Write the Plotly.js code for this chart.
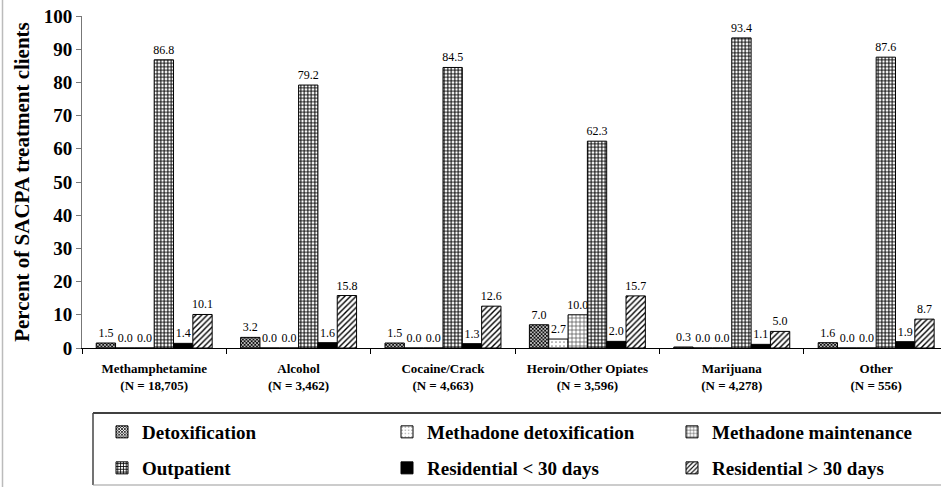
<!DOCTYPE html>
<html>
<head>
<meta charset="utf-8">
<script src="https://cdn.plot.ly/plotly-3.0.1.min.js"></script>
<style>html,body{margin:0;padding:0;background:#fff;}#chart{width:941px;height:487px;}</style>
</head>
<body>
<div id="chart"></div>
<script>
const categories = [
  "Methamphetamine<br>(N = 18,705)",
  "Alcohol<br>(N = 3,462)",
  "Cocaine/Crack<br>(N = 4,663)",
  "Heroin/Other Opiates<br>(N = 3,596)",
  "Marijuana<br>(N = 4,278)",
  "Other<br>(N = 556)"
];
const seriesNames = [
  "Detoxification",
  "Methadone detoxification",
  "Methadone maintenance",
  "Outpatient",
  "Residential &lt; 30 days",
  "Residential &gt; 30 days"
];
const detoxification        = [1.5, 3.2, 1.5, 7.0, 0.3, 1.6];
const methadoneDetox        = [0.0, 0.0, 0.0, 2.7, 0.0, 0.0];
const methadoneMaintenance  = [0.0, 0.0, 0.0, 10.0, 0.0, 0.0];
const outpatient            = [86.8, 79.2, 84.5, 62.3, 93.4, 87.6];
const residentialUnder30    = [1.4, 1.6, 1.3, 2.0, 1.1, 1.9];
const residentialOver30     = [10.1, 15.8, 12.6, 15.7, 5.0, 8.7];
const yTicks = [0,10,20,30,40,50,60,70,80,90,100];

const seriesValues = [detoxification, methadoneDetox, methadoneMaintenance, outpatient, residentialUnder30, residentialOver30];
const patterns = [
  {shape: "x", size: 2.5, solidity: 0.6, fgcolor: "#000", bgcolor: "#fff"},
  {shape: ".", size: 4, solidity: 0.15, fgcolor: "#888", bgcolor: "#fff"},
  {shape: "+", size: 4, solidity: 0.3, fgcolor: "#444", bgcolor: "#fff"},
  {shape: "+", size: 3.5, solidity: 0.5, fgcolor: "#000", bgcolor: "#fff"},
  {shape: "", size: 4, solidity: 1, fgcolor: "#000", bgcolor: "#000"},
  {shape: "/", size: 4, solidity: 0.35, fgcolor: "#000", bgcolor: "#fff"}
];

const L = 82, R = 941, T = 16, B = 348;
const px = x => (x - L) / (R - L);
const py = y => (B - y) / (B - T);

const legendIds = ["legend", "legend2", "legend3", "legend4", "legend5", "legend6"];
const legendX = [102, 387, 672, 102, 387, 672];
const legendY = [432, 432, 432, 468, 468, 468];

const traces = seriesValues.map((vals, i) => ({
  type: "bar",
  name: seriesNames[i],
  x: categories,
  y: vals,
  text: vals.map(v => v.toFixed(1)),
  textposition: "outside",
  constraintext: "none",
  cliponaxis: false,
  textfont: {family: "Liberation Serif", size: 12, color: "#000"},
  marker: {
    color: i === 4 ? "#000" : "#fff",
    line: {color: "#000", width: 1},
    pattern: patterns[i]
  },
  legend: legendIds[i],
  hoverinfo: "skip"
}));

const layout = {
  width: 941, height: 487,
  margin: {l: L, r: 941 - R, t: T, b: 487 - B, pad: 0},
  paper_bgcolor: "#fff", plot_bgcolor: "#fff",
  barmode: "group",
  bargap: 0.197,
  bargroupgap: 0,
  showlegend: true,
  xaxis: {
    type: "category",
    range: [-0.5, 5.449],
    showline: true, linecolor: "#000", linewidth: 1,
    ticks: "outside", tickson: "boundaries", ticklen: 5, tickcolor: "#000",
    ticklabelstandoff: 8,
    tickfont: {family: "Liberation Serif", size: 13, color: "#000", weight: "bold"},
    showgrid: false, zeroline: false, fixedrange: true
  },
  yaxis: {
    range: [0, 100],
    tickvals: yTicks,
    ticktext: yTicks.map(String),
    showline: true, linecolor: "#777", linewidth: 1,
    ticks: "outside", ticklen: 5, tickcolor: "#777",
    tickfont: {family: "Liberation Serif", size: 19, color: "#000", weight: "bold"},
    showgrid: false, zeroline: false, fixedrange: true,
    title: {text: "Percent of SACPA treatment clients", standoff: 8,
            font: {family: "Liberation Serif", size: 21, color: "#000", weight: "bold"}}
  },
  shapes: [
    {type: "line", xref: "paper", yref: "paper", x0: px(93), x1: px(945), y0: py(413), y1: py(413), line: {color: "#000", width: 1.5}},
    {type: "line", xref: "paper", yref: "paper", x0: px(93), x1: px(93), y0: py(413), y1: py(485), line: {color: "#444", width: 1.5}},
    {type: "line", xref: "paper", yref: "paper", x0: px(93), x1: px(945), y0: py(485), y1: py(485), line: {color: "#999", width: 1}},
    {type: "line", xref: "paper", yref: "paper", x0: px(2.5), x1: px(2.5), y0: py(-5), y1: py(492), line: {color: "#bbb", width: 1.5}}
  ]
};

legendIds.forEach((id, i) => {
  layout[id] = {
    orientation: "h",
    xanchor: "left",
    yanchor: "middle",
    x: px(legendX[i]),
    y: py(legendY[i]),
    bgcolor: "rgba(0,0,0,0)",
    borderwidth: 0,
    font: {family: "Liberation Serif", size: 19, color: "#000", weight: "bold"}
  };
});

Plotly.newPlot("chart", traces, layout, {displayModeBar: false, staticPlot: true});
</script>
</body>
</html>
